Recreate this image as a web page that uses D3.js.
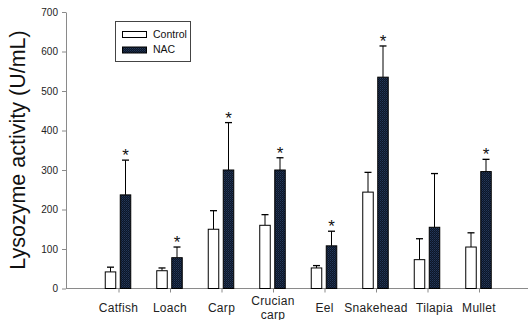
<!DOCTYPE html>
<html>
<head>
<meta charset="utf-8">
<script src="https://cdn.jsdelivr.net/npm/d3@7"></script>
<style>
  body { margin: 0; background: #fff; }
  svg { display: block; font-family: Arial, "Liberation Sans", sans-serif; }
</style>
</head>
<body>
<div id="chart"></div>
<script>
let w = 528,
    h = 320

// data
let categories = ['Catfish', 'Loach', 'Carp', 'Crucian carp', 'Eel', 'Snakehead', 'Tilapia', 'Mullet']
let controlMean = [42, 45, 150, 160, 52, 244, 73, 105]
let controlErr = [12, 7, 47, 27, 6, 50, 53, 36]
let nacMean = [237, 78, 300, 300, 108, 535, 155, 296]
let nacErr = [88, 27, 120, 31, 37, 79, 136, 31]
let significant = [true, true, true, true, true, true, false, true]
let yTicks = [0, 100, 200, 300, 400, 500, 600, 700]
let seriesNames = ['Control', 'NAC']

let padLeft = 66, padTop = 12, axisY = 288.5

let svg = d3.select('#chart')
    .append('svg')
    .attr('width', w)
    .attr('height', h)

let defs = svg.append('defs')
let pat = defs.append('pattern')
    .attr('id', 'hatch')
    .attr('width', 2)
    .attr('height', 2)
    .attr('patternUnits', 'userSpaceOnUse')
pat.append('rect').attr('width', 2).attr('height', 2).attr('fill', '#0c1628')
pat.append('rect').attr('width', 1).attr('height', 1).attr('fill', '#25395a')
pat.append('rect').attr('x', 1).attr('y', 1).attr('width', 1).attr('height', 1).attr('fill', '#1a2a44')

let x = d3.scalePoint()
    .domain(categories)
    .range([118.5, 479])

let y = d3.scaleLinear()
    .domain([0, 700])
    .range([axisY, padTop])

let barW = 10.5, gap = 4.5

// y axis
let yAxis = d3.axisLeft(y)
    .tickValues(yTicks)
    .tickSize(4)
    .tickSizeOuter(0)
let gy = svg.append('g')
    .attr('transform', `translate(${padLeft},0)`)
    .call(yAxis)
gy.select('.domain').attr('stroke', '#8a8a8a')
gy.selectAll('.tick line').attr('stroke', '#8a8a8a')
gy.selectAll('.tick text')
    .attr('font-size', 10)
    .attr('font-family', 'Arial, "Liberation Sans", sans-serif')
    .attr('fill', '#222')
    .attr('x', -8)

// x axis
let xAxis = d3.axisBottom(x)
    .tickSize(4)
    .tickFormat('')
let gx = svg.append('g')
    .attr('transform', `translate(0,${axisY})`)
    .call(xAxis)
gx.select('.domain').remove()
gx.selectAll('.tick line').attr('stroke', '#8a8a8a')
gx.append('line')
    .attr('x1', padLeft)
    .attr('x2', w)
    .attr('stroke', '#8a8a8a')

// category labels (Crucian carp on two lines; Tilapia sits a bit right of its tick in the original)
let labels = svg.append('g')
    .attr('font-size', 12)
    .attr('letter-spacing', 0.3)
    .attr('fill', '#222')
    .attr('text-anchor', 'middle')
categories.forEach(c => {
    let parts = c === 'Crucian carp' ? ['Crucian', 'carp'] : [c]
    let lx = x(c) + (c === 'Tilapia' ? 7 : 0)
    let t = labels.append('text')
        .attr('x', lx)
        .attr('y', parts.length > 1 ? 305 : 311.5)
    parts.forEach((p, i) => {
        t.append('tspan')
            .attr('x', lx)
            .attr('dy', i === 0 ? 0 : 13.5)
            .text(p)
    })
})

// error bars (upper only)
let errBar = (g, cx, m, e) => {
    g.append('line')
        .attr('x1', cx).attr('x2', cx)
        .attr('y1', y(m)).attr('y2', y(m + e))
        .attr('stroke', '#000')
    g.append('line')
        .attr('x1', cx - 3.5).attr('x2', cx + 3.5)
        .attr('y1', y(m + e)).attr('y2', y(m + e))
        .attr('stroke', '#000')
        .attr('stroke-width', 1.3)
}

let bars = svg.append('g')
categories.forEach((c, i) => {
    let cx = x(c) - 0.5
    let xc = cx - gap / 2 - barW
    let xn = cx + gap / 2
    errBar(bars, xc + barW / 2, controlMean[i], controlErr[i])
    errBar(bars, xn + barW / 2, nacMean[i], nacErr[i])
    bars.append('rect')
        .attr('x', xc)
        .attr('y', y(controlMean[i]))
        .attr('width', barW)
        .attr('height', y(0) - y(controlMean[i]))
        .attr('fill', '#fff')
        .attr('stroke', '#000')
    bars.append('rect')
        .attr('x', xn)
        .attr('y', y(nacMean[i]))
        .attr('width', barW)
        .attr('height', y(0) - y(nacMean[i]))
        .attr('fill', 'url(#hatch)')
        .attr('stroke', '#000')
    if (significant[i]) {
        bars.append('text')
            .attr('x', xn + barW / 2)
            .attr('y', y(nacMean[i] + nacErr[i]) + 1)
            .attr('text-anchor', 'middle')
            .attr('font-size', 17)
            .attr('fill', '#111')
            .text('*')
    }
})

// legend
let lg = svg.append('g')
lg.append('rect')
    .attr('x', 115.5).attr('y', 21.5)
    .attr('width', 75).attr('height', 40)
    .attr('fill', '#fff')
    .attr('stroke', '#444')
seriesNames.forEach((s, i) => {
    lg.append('rect')
        .attr('x', 122.5).attr('y', 31.5 + i * 15.5)
        .attr('width', 24).attr('height', 6)
        .attr('fill', i === 0 ? '#fff' : 'url(#hatch)')
        .attr('stroke', '#000')
    lg.append('text')
        .attr('x', 153)
        .attr('y', 38 + i * 15.2)
        .attr('font-size', 10.5)
        .attr('fill', '#111')
        .text(s)
})

// y axis title
svg.append('text')
    .attr('transform', `translate(25,150) rotate(-90)`)
    .attr('text-anchor', 'middle')
    .attr('font-size', 21.5)
    .attr('fill', '#111')
    .text('Lysozyme activity (U/mL)')
</script>
</body>
</html>
